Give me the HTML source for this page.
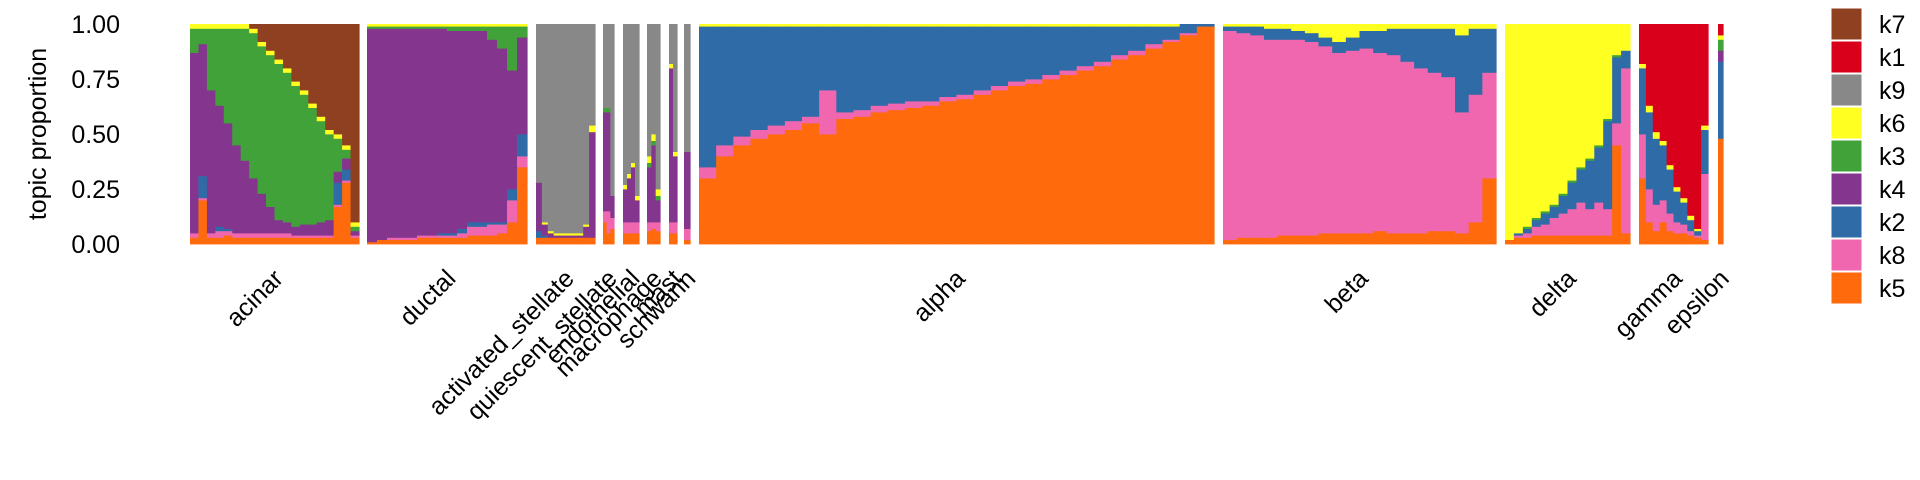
<!DOCTYPE html>
<html><head><meta charset="utf-8">
<style>
html,body{margin:0;padding:0;background:#fff;}
svg{display:block;font-family:"Liberation Sans",Arial,sans-serif;}
</style></head>
<body>
<svg id="chart" width="1920" height="480" viewBox="0 0 1920 480" xmlns="http://www.w3.org/2000/svg">
<g id="yaxis"></g>
<g id="panels"></g>
<g id="xlabels"></g>
<g id="legend"></g>
<text x="0" y="0" transform="translate(46,134) rotate(-90)" text-anchor="middle" font-size="25" fill="#000">topic proportion</text>
</svg>
<script>
// topic metadata
const topics = ["k7","k1","k9","k6","k3","k4","k2","k8","k5"];
const topicColors = {k7:"#8E4020",k1:"#D9001B",k9:"#888888",k6:"#FFFF22",k3:"#41A23A",k4:"#84368F",k2:"#2E6BA7",k8:"#F067B0",k5:"#FE6A0C"};
const stackOrder = ["k5","k8","k2","k4","k3","k6","k9","k1","k7"];
const yTicks = [0, 0.25, 0.5, 0.75, 1];
const yTickLabels = ["0.00","0.25","0.50","0.75","1.00"];

// cell types
const cellTypes = ["acinar","ductal","activated_stellate","quiescent_stellate","endothelial","macrophage","mast","schwann","alpha","beta","delta","gamma","epsilon"];
const panelStart = [190,367,536,603,623,647,669,684,699,1223,1505,1639,1718];
const panelEnd   = [359,527,595,614,639,660,677,690,1214,1496,1630,1708,1723];

// per-panel topic proportions (fill topic takes the remainder)
const acinarK5 = [0.03,0.2,0.03,0.03,0.04,0.03,0.03,0.03,0.03,0.03,0.03,0.03,0.03,0.03,0.03,0.03,0.03,0.17,0.28,0.03];
const acinarK8 = [0.02,0.01,0.02,0.03,0.02,0.02,0.02,0.02,0.02,0.02,0.02,0.02,0.01,0.01,0.01,0.01,0.01,0.01,0.01,0.01];
const acinarK2 = [0,0.1,0,0.02,0.01,0,0,0,0,0,0,0,0,0,0,0,0,0.1,0.05,0];
const acinarK4 = [0.82,0.6,0.65,0.55,0.48,0.4,0.33,0.25,0.18,0.12,0.06,0.05,0.04,0.05,0.05,0.06,0.07,0.05,0.05,0.02];
const acinarK6 = [0.02,0.02,0.02,0.02,0.02,0.02,0.02,0.02,0.02,0.02,0.02,0.02,0.02,0.02,0.02,0.02,0.02,0.02,0.02,0.02];
const acinarK7 = [0,0,0,0,0,0,0,0.02,0.08,0.12,0.16,0.2,0.26,0.3,0.36,0.42,0.48,0.5,0.55,0.9];

const ductalK5 = [0.01,0.02,0.02,0.02,0.02,0.03,0.03,0.03,0.03,0.03,0.04,0.04,0.04,0.05,0.1,0.35];
const ductalK8 = [0,0,0.01,0.01,0.01,0.01,0.01,0.01,0.01,0.02,0.04,0.04,0.05,0.04,0.1,0.05];
const ductalK2 = [0,0,0,0,0,0,0,0.01,0.01,0.02,0.02,0.02,0.01,0.01,0.05,0.1];
const ductalK3 = [0.01,0.01,0.01,0.01,0.01,0.01,0.01,0.01,0.02,0.02,0.02,0.02,0.06,0.1,0.2,0.05];
const ductalK6 = [0.01,0.01,0.01,0.01,0.01,0.01,0.01,0.01,0.01,0.01,0.01,0.01,0.01,0.01,0.01,0.01];

const astellK5 = [0.03,0.03,0.03,0.03,0.03,0.03,0.03,0.03,0.03,0.03];
const astellK2 = [0.03,0.01,0,0,0,0,0,0,0,0];
const astellK4 = [0.22,0.05,0.02,0.01,0.01,0.01,0.01,0.01,0.05,0.48];
const astellK6 = [0,0.01,0.01,0.01,0.01,0.01,0.01,0.01,0.01,0.03];

const qstellK5 = [0.1,0.05,0.07];
const qstellK8 = [0.05,0.1,0.05];
const qstellK4 = [0.45,0.45,0.1];
const qstellK3 = [0.02,0.02,0];

const endoK5 = [0.05,0.05,0.05,0.05];
const endoK8 = [0.05,0.05,0.05,0.05];
const endoK4 = [0.15,0.2,0.25,0.1];
const endoK6 = [0.02,0.02,0.02,0.02];

const macroK5 = [0.06,0.07,0.06];
const macroK8 = [0.04,0.03,0.04];
const macroK4 = [0.25,0.35,0.1];
const macroK3 = [0.02,0.02,0.02];
const macroK6 = [0.03,0.03,0.03];

const mastK5 = [0.05,0.05];
const mastK8 = [0.05,0.05];
const mastK4 = [0.7,0.3];
const mastK6 = [0.02,0.02];

const schwK5 = [0.02];
const schwK8 = [0.05];
const schwK4 = [0.35];

const alphaK5 = [0.3,0.4,0.45,0.48,0.5,0.52,0.55,0.5,0.57,0.58,0.6,0.61,0.62,0.63,0.65,0.66,0.68,0.7,0.72,0.73,0.75,0.77,0.79,0.81,0.84,0.86,0.89,0.92,0.95,0.99];
const alphaK8 = [0.05,0.05,0.04,0.04,0.04,0.04,0.03,0.2,0.03,0.03,0.03,0.03,0.03,0.02,0.02,0.02,0.02,0.02,0.02,0.02,0.02,0.02,0.02,0.02,0.02,0.02,0.02,0.01,0.01,0];
const alphaK6 = [0.01,0.01,0.01,0.01,0.01,0.01,0.01,0.01,0.01,0.01,0.01,0.01,0.01,0.01,0.01,0.01,0.01,0.01,0.01,0.01,0.01,0.01,0.01,0.01,0.01,0.01,0.01,0.01,0,0];

const betaK5 = [0.02,0.03,0.03,0.03,0.04,0.04,0.04,0.05,0.05,0.05,0.05,0.06,0.05,0.05,0.05,0.06,0.06,0.05,0.1,0.3];
const betaK2 = [0.02,0.03,0.04,0.05,0.05,0.04,0.04,0.04,0.05,0.06,0.08,0.1,0.12,0.15,0.18,0.2,0.22,0.35,0.3,0.2];
const betaK6 = [0.01,0.01,0.01,0.02,0.02,0.03,0.04,0.06,0.08,0.06,0.03,0.03,0.02,0.02,0.02,0.02,0.02,0.05,0.02,0.02];

const deltaK5 = [0.02,0.03,0.03,0.04,0.04,0.04,0.04,0.04,0.04,0.04,0.04,0.04,0.45,0.05];
const deltaK8 = [0,0.01,0.02,0.04,0.05,0.08,0.1,0.12,0.15,0.12,0.15,0.12,0.1,0.75];
const deltaK2 = [0,0.01,0.02,0.03,0.05,0.05,0.08,0.12,0.15,0.22,0.25,0.4,0.3,0.08];
const deltaK3 = [0,0,0.01,0.01,0.01,0.01,0.01,0.01,0.01,0.01,0.01,0.01,0.01,0];

const gammaK5 = [0.3,0.1,0.06,0.1,0.06,0.05,0.05,0.04,0.03,0.02];
const gammaK8 = [0.2,0.15,0.12,0.1,0.08,0.05,0.04,0.02,0.01,0.3];
const gammaK2 = [0.3,0.35,0.3,0.25,0.2,0.14,0.1,0.05,0.02,0.2];
const gammaK6 = [0.02,0.03,0.03,0.02,0.02,0.02,0.02,0.02,0.01,0.02];

const epsK5 = [0.48];
const epsK2 = [0.35];
const epsK4 = [0.05];
const epsK3 = [0.05];
const epsK6 = [0.02];

const panelSeries = [
  {fill:"k3", s:{k5:acinarK5,k8:acinarK8,k2:acinarK2,k4:acinarK4,k6:acinarK6,k7:acinarK7}},
  {fill:"k4", s:{k5:ductalK5,k8:ductalK8,k2:ductalK2,k3:ductalK3,k6:ductalK6}},
  {fill:"k9", s:{k5:astellK5,k2:astellK2,k4:astellK4,k6:astellK6}},
  {fill:"k9", s:{k5:qstellK5,k8:qstellK8,k4:qstellK4,k3:qstellK3}},
  {fill:"k9", s:{k5:endoK5,k8:endoK8,k4:endoK4,k6:endoK6}},
  {fill:"k9", s:{k5:macroK5,k8:macroK8,k4:macroK4,k3:macroK3,k6:macroK6}},
  {fill:"k9", s:{k5:mastK5,k8:mastK8,k4:mastK4,k6:mastK6}},
  {fill:"k9", s:{k5:schwK5,k8:schwK8,k4:schwK4}},
  {fill:"k2", s:{k5:alphaK5,k8:alphaK8,k6:alphaK6}},
  {fill:"k8", s:{k5:betaK5,k2:betaK2,k6:betaK6}},
  {fill:"k6", s:{k5:deltaK5,k8:deltaK8,k2:deltaK2,k3:deltaK3}},
  {fill:"k1", s:{k5:gammaK5,k8:gammaK8,k2:gammaK2,k6:gammaK6}},
  {fill:"k1", s:{k5:epsK5,k2:epsK2,k4:epsK4,k3:epsK3,k6:epsK6}}
];

const NS = "http://www.w3.org/2000/svg";
const Y0 = 244, Y1 = 24;
function yScale(v){ return Y0 - v*(Y0-Y1); }
function mk(tag, attrs, parent){ const e=document.createElementNS(NS,tag); for(const k in attrs) e.setAttribute(k,attrs[k]); parent.appendChild(e); return e; }

// y axis
const yaxis = document.getElementById("yaxis");
yTicks.forEach((t,i)=>{
  const tx = mk("text",{x:120,y:yScale(t)+9,"text-anchor":"end","font-size":25,fill:"#000"},yaxis);
  
  
  tx.textContent = yTickLabels[i];
});

// panels
const panels = document.getElementById("panels");
const xl = document.getElementById("xlabels");
cellTypes.forEach((ct,p)=>{
  const g = mk("g",{},panels);
  
  
  const ps = panelSeries[p];
  const keys = Object.keys(ps.s);
  const n = ps.s[keys[0]].length;
  const x0 = panelStart[p], w = (panelEnd[p]-panelStart[p])/n;
  for(let i=0;i<n;i++){
    let sum = 0;
    keys.forEach(k=>{ sum += ps.s[k][i]; });
    const fillVal = Math.max(0, 1-sum);
    let cum = 0;
    stackOrder.forEach(k=>{
      let v = 0;
      if(k===ps.fill) v = fillVal; else if(ps.s[k]) v = ps.s[k][i];
      if(v<=0) return;
      const r = mk("rect",{x:(x0+i*w).toFixed(2),y:yScale(cum+v).toFixed(2),width:(w+0.6).toFixed(2),height:(v*(Y0-Y1)+0.4).toFixed(2),fill:topicColors[k]},g);
      
      
      cum += v;
    });
  }
  const cx = (panelStart[p]+panelEnd[p])/2 + 10;
  const cy = 280;
  const t = mk("text",{x:cx,y:cy,"text-anchor":"end","font-size":25,fill:"#000",transform:`rotate(-45 ${cx} ${cy})`},xl);
  
  
  t.textContent = ct;
});

// legend
const legend = document.getElementById("legend");
topics.forEach((k,i)=>{
  const y = 8 + i*33;
  const r = mk("rect",{x:1831,y:y,width:31,height:32,fill:topicColors[k],stroke:"#fff","stroke-width":1},legend);
  
  
  const t = mk("text",{x:1879,y:y+25,"font-size":25,fill:"#000"},legend);
  
  
  t.textContent = k;
});
</script>
</body></html>
